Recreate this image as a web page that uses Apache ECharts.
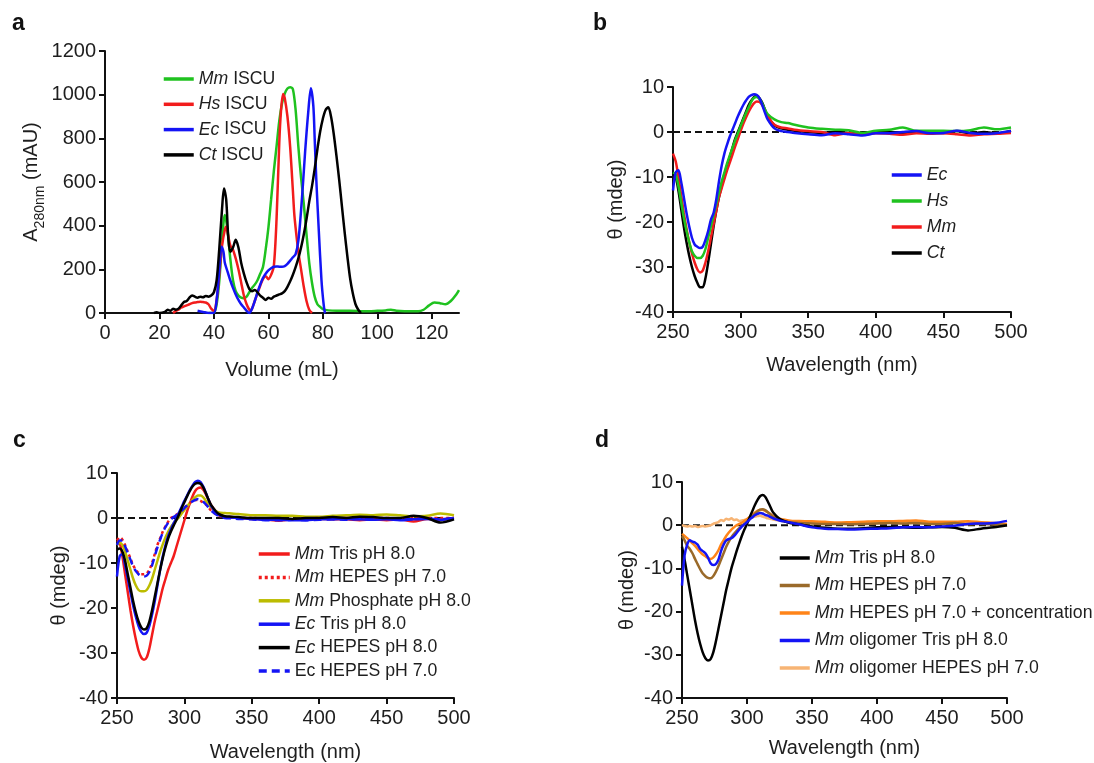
<!DOCTYPE html>
<html><head><meta charset="utf-8">
<script src="https://cdn.jsdelivr.net/npm/echarts@6/dist/echarts.min.js"></script>
<style>html,body{margin:0;padding:0;background:#fff}#c{width:1094px;height:763px}</style>
</head><body><div id="c"></div>
<script>
// ---------- Panel a: size-exclusion (Volume mL, A280 mAU) ----------
const aMm = [[38,0],[40,2],[41,40],[42,150],[43,330],[44,449],[45,380],[46,250],[47,150],[48,100],[49,80],[50,70],[51,68],[52,75],[53,95],[54,115],[55,130],[56,150],[57,180],[58,210],[59,290],[60,390],[61,520],[62,650],[63,763],[64,880],[65,960],[66,1005],[67,1028],[68,1034],[69,1025],[70,930],[71,763],[72,620],[73,500],[74,360],[75,230],[76,140],[77,75],[78,40],[79,28],[80,18],[82,12],[85,10],[90,10],[95,8],[100,10],[103,12],[105,15],[107,10],[110,8],[115,8],[117,15],[119,35],[121,48],[123,45],[125,40],[127,55],[129,85],[130,105]];
const aHs = [[25,0],[26,10],[27,15],[28,25],[29,30],[30,35],[31,40],[32,45],[33,48],[34,50],[35,52],[36,50],[37,48],[38,40],[39,20],[40,10],[41,60],[42,180],[43,310],[44,380],[44.5,395],[45,370],[46,310],[47,290],[48,250],[49,200],[50,140],[51,80],[52,40],[53,15],[53.5,10],[54,20],[55,55],[56,90],[57,125],[58,155],[59,168],[60,155],[61,175],[62,215],[63,430],[64,780],[64.6,920],[65.4,1003],[66,985],[67,900],[68,760],[69,560],[69.5,455],[70,390],[71,280],[72,200],[73,120],[74,55],[75,15],[76,0]];
const aEc = [[34,10],[36,5],[38,0],[40,0],[41,60],[42,200],[42.8,304],[43.5,280],[44,230],[45,190],[46,150],[47,115],[48,85],[49,60],[50,40],[51,25],[52,10],[53,0],[54,20],[55,55],[56,95],[57,130],[58,160],[59,180],[60,195],[61,205],[62,212],[63,213],[64,212],[65,212],[66,215],[67,225],[68,240],[69,255],[70,270],[71,330],[72,470],[72.8,609],[73.5,740],[74.6,914],[75.6,1029],[76.5,950],[77,800],[77.6,610],[78.5,380],[79.5,150],[80.2,50],[80.7,5],[81,0]];
const aCt = [[18,0],[19,3],[20,0],[22,5],[23,15],[24,10],[25,20],[26,15],[27,20],[28,35],[29,50],[30,55],[31,70],[32,80],[33,75],[34,70],[35,75],[36,72],[37,78],[38,75],[39,80],[40,95],[41,150],[42,300],[43,480],[43.7,570],[44.5,520],[45.3,340],[46,280],[47,300],[48,335],[49,300],[50,230],[51,180],[52,140],[53,110],[54,100],[55,105],[56,95],[57,80],[58,70],[59,60],[60,70],[61,65],[62,75],[63,80],[64,85],[65,90],[66,100],[67,120],[68,145],[69,175],[70,210],[71,250],[72,300],[73,360],[74,430],[75,510],[76,580],[77,660],[78,750],[79,830],[80,890],[81,930],[82,942],[83,900],[84,820],[85,720],[86,610],[87,490],[88,370],[89,260],[90,160],[91,90],[92,40],[93,15],[94,0]];
const aVolTicks = [0,20,40,60,80,100,120];
const aLegend = [['Mm',' ISCU'],['Hs',' ISCU'],['Ec',' ISCU'],['Ct',' ISCU']];

// ---------- shared wavelength grid (nm) for CD panels ----------
const wl = [250,252,254,256,258,260,262,264,266,268,270,272,274,276,278,280,282,284,286,288,290,292,294,296,298,300,302,304,306,308,310,312,314,316,318,320,325,330,335,340,350,360,370,380,390,400,410,420,430,440,450,460,470,480,490,500];

// ---------- Panel b ----------
const bEc = [-13,-9,-8.5,-11,-14.5,-18,-21,-23.5,-25,-25.5, -25.8,-25.5,-24,-22,-19.5,-18,-15,-11,-7.5,-4.8, -2.8,-1,0.5,2,3.5,4.8,6,7,7.8,8.2, 8.4,8.2,7.5,6,4.3,2.8, 0.8,0.2,0,-0.2, -0.5,-0.7,-0.3,-0.5,-0.8,-0.3,-0.3,0,0.2,-0.3,-0.2,0.3,-0.2,-0.4,-0.2,0.2];
const bHs = [-9,-9.5,-12,-15.5,-19,-22,-24.5,-26.5,-27.5,-28, -28,-27.5,-26,-23.5,-21,-18.5,-16,-13.5,-11,-9, -7,-5.2,-3.5,-1.8,-0.3,1.3,2.8,4.2,5.5,6.8, 7.6,7.8,7.3,6.3,5,4, 2.8,2.2,2,1.6, 1,0.7,0.5,0.4,-0.2,0.3,0.5,1,0.3,0.3,0.3,0.2,0.4,1,0.6,1];
const bMm = [-4.8,-6.5,-10,-14,-18,-21.5,-24.5,-27,-29,-30.5, -31.2,-30.8,-29,-26.5,-23.5,-20.5,-17.5,-14.5,-12.5,-10.5, -8.5,-6.8,-5,-3.2,-1.5,0.2,1.8,3.2,4.5,5.6, 6.4,6.8,6.7,6,4.8,3.5, 1.6,1,0.8,0.5, 0.2,0,-0.7,-0.2,-0.6,-0.3,-0.4,-0.6,-0.3,-0.4,-0.3,-0.5,-0.8,-0.5,-0.4,-0.2];
const bCt = [-9,-10,-13,-17,-21,-24.5,-27.5,-30,-32,-33.5, -34.5,-34.5,-32.5,-29,-25,-21,-17.5,-14.5,-12,-9.5, -7.5,-5.5,-3.5,-1.5,0,1.5,3,4.5,6,7, 7.8,8,7.5,6.5,5,3.5, 1.5,0.8,0.5,0.3, 0,-0.2,0,-0.2,-0.5,0,0,-0.2,0,0,-0.2,0.2,-0.3,0,-0.3,0.3];
const bLegend = [['Ec',''],['Hs',''],['Mm',''],['Ct','']];

// ---------- Panel c ----------
const cMmTris = [-5,-5.5,-8.5,-12.5,-16.5,-20.5,-24,-27,-29.5,-31, -31.5,-31,-29,-26,-23,-20.5,-18,-15.5,-13.5,-11.5, -10,-8.5,-6.5,-4.5,-2.5,-0.5,1.5,3.2,4.8,6, 6.6,6.8,6.3,5.2,4,2.8, 1,0.3,0.2,0, -0.2,-0.3,-0.6,-0.3,-0.3,-0.2,-0.3,-0.3,-0.5,-0.3,-0.5,-0.3,-0.8,-0.2,-0.3,0];
const cMmHepes7 = [-5,-4.3,-4.8,-6,-7.5,-9,-10.5,-11.5,-12.2,-12.5, -12.5,-12.3,-11.5,-10,-8,-6,-4.5,-3,-1.8,-0.8, 0,0.3,0.7,1.2,1.8,2.3,2.8,3.3,3.8,4, 4,3.8,3.4,3,2.3,1.6, 0.6,0.2,0.1,0, 0,-0.2,-0.2,-0.3,-0.2,0,-0.2,0,0,0,0,-0.2,0,0,0,0];
const cMmPhos = [-6,-5.5,-6,-7.5,-9.5,-11.5,-13.5,-15,-16,-16.3, -16.3,-16,-15,-13.5,-11.5,-9.5,-7.5,-5.8,-4.3,-3, -2,-1.2,-0.5,0.2,1,1.8,2.6,3.3,4,4.6, 5,5,4.6,3.8,3,2.3, 1.3,1.1,1,0.9, 0.6,0.6,0.5,0.5,0.3,0.3,0.5,0.6,0.7,0.6,0.8,0.6,0.4,0.5,1,0.6];
const cEcTris = [-13,-8.5,-8,-10.5,-13.5,-16.5,-19.5,-22,-24,-25.3, -25.8,-25.5,-24,-21.5,-18.5,-15,-11.5,-8.5,-6,-4, -2.5,-1.2,0,1.2,2.5,3.8,5,6.2,7.2,8, 8.3,8,7,5.5,4,2.6, 0.8,0.3,0.1,0, -0.2,-0.4,-0.4,-0.5,-0.5,-0.3,-0.3,-0.2,-0.3,-0.4,-0.3,-0.5,-0.3,-0.2,-0.4,0];
const cEcHepes8 = [-7,-6.8,-7.5,-9.5,-12.5,-15.5,-18.5,-21,-23,-24.3, -24.8,-24.5,-23,-20.5,-17.5,-14.5,-11.5,-8.8,-6.5,-4.5, -3,-1.7,-0.5,0.8,2.2,3.5,4.8,6,7,7.6, 7.8,7.6,6.8,5.5,4,2.8, 1,0.4,0.3,0.2, 0,0,0,-0.2,0,0,0.2,0,0.3,0.2,0,0,0.5,0,-1,-0.3];
const cEcHepes7 = [-6,-5,-5,-6.3,-7.8,-9.3,-10.8,-11.8,-12.5,-12.9, -13,-12.8,-12,-10.5,-8.5,-6.5,-4.8,-3.2,-2,-1, -0.3,0.2,0.6,1,1.6,2.2,2.8,3.3,3.7,4, 4.2,4,3.6,3,2.3,1.6, 0.5,0,-0.1,-0.2, -0.3,-0.5,-0.5,-0.4,-0.5,-0.4,-0.3,-0.4,-0.2,-0.2,0,-0.4,-0.2,-0.1,-0.3,0];
const cLegend = [['Mm',' Tris pH 8.0'],['Mm',' HEPES pH 7.0'],['Mm',' Phosphate pH 8.0'],['Ec',' Tris pH 8.0'],['Ec',' HEPES pH 8.0'],['','Ec HEPES pH 7.0']];

// ---------- Panel d ----------
const dMmTris = [-5,-8,-11.5,-15,-18.5,-22,-25,-27.5,-29.5,-30.8, -31.3,-31,-29.5,-27,-24,-21,-18,-15,-12.5,-10, -8,-6,-4.2,-2.5,-1,0.3,1.8,3.2,4.6,5.8, 6.7,7,6.6,5.5,4.2,3, 1.5,0.8,0.4,0.2, -0.3,-0.6,-0.8,-0.8,-0.7,-0.5,-0.4,-0.5,-0.6,-0.5,-0.4,-0.6,-1.2,-0.8,-0.5,0];
const dMmHepes = [-2.5,-3.5,-4.8,-5.5,-6.5,-7.8,-9,-10.2,-11.2,-11.8, -12.2,-12.3,-11.8,-10.8,-9.5,-8,-6.5,-5,-3.8,-2.8, -2,-1.3,-0.7,-0.2,0.3,0.8,1.4,2,2.6,3.2, 3.6,3.7,3.5,3,2.5,2, 1.2,0.8,0.6,0.5, 0.4,0.3,0.3,0.2,0.3,0.4,0.5,0.4,0.5,0.3,0.3,0.5,0.2,0.3,0.2,0];
const dMmHepesConc = [-2,-2.5,-3,-3.6,-4.2,-4.8,-5.5,-6.2,-6.8,-7.2, -7.6,-7.8,-7.5,-6.8,-5.8,-4.5,-3.5,-2.5,-1.7,-1, -0.5,0,0.3,0.6,1,1.4,1.9,2.4,2.9,3.3, 3.5,3.6,3.3,3,2.6,2.2, 1.5,1.2,1,1, 0.9,0.8,0.6,0.7,0.8,0.9,0.9,1,1.1,0.8,0.8,0.8,0.9,0.7,0.5,0.3];
const dOligoTris = [-14,-7,-4.5,-3.5,-3.8,-4,-4.5,-5.5,-6,-6.5, -7.5,-8.8,-9.2,-9,-8,-6,-4.5,-3.5,-3.2,-3, -2.5,-1.8,-1,-0.3,0.2,0.7,1.3,1.8,2.3,2.6, 2.8,2.7,2.4,2.2,1.9,1.6, 1.1,0.8,0.5,0.2, -0.5,-0.8,-0.9,-1,-0.9,-0.8,-0.7,-0.5,-0.4,-0.5,-0.3,-0.1,0.3,0.4,0.5,1];
const dOligoHepes = [0,-0.2,-0.3,-0.2,-0.3,-0.2,-0.4,-0.3,-0.2,-0.3, -0.2,0,0.3,0.5,0.7,1.2,1,1.5,1.3,1.6, 1.2,1.3,1,1.1,1.2,1.4,1.6,1.8,2,2.1, 2.2,2,1.8,1.6,1.5,1.3, 1.1,1,0.8,0.7, 0.6,0.6,0.4,0.5,0.5,0.6,0.6,0.8,0.9,0.7,0.6,0.7,0.6,0.5,0.3,0];
const dLegend = [['Mm',' Tris pH 8.0'],['Mm',' HEPES pH 7.0'],['Mm',' HEPES pH 7.0 + concentration'],['Mm',' oligomer Tris pH 8.0'],['Mm',' oligomer HEPES pH 7.0']];

const cdTicks = [250,300,350,400,450,500];

// ---------- build ----------
const FONT = "'Liberation Sans', Arial, Helvetica, sans-serif";
const TXT = '#1e1e1e';
const LFS = 17.7;
const pair = arr => wl.map((x, i) => [x, arr[i]]);

function xAx(gi, min, max, interval, name, nameGap, custom) {
  const ax = {
    type: 'value', gridIndex: gi, min, max, interval, name, nameLocation: 'middle', nameGap,
    nameTextStyle: {color: TXT, fontSize: 20, fontFamily: FONT},
    axisLine: {show: true, onZero: false, lineStyle: {color: '#111', width: 2}},
    axisTick: {show: true, length: 6, lineStyle: {color: '#111', width: 2}},
    axisLabel: {color: TXT, fontSize: 20, fontFamily: FONT, margin: 10, formatter: v => String(v)},
    splitLine: {show: false}
  };
  if (custom) { ax.axisLabel.customValues = custom; ax.axisTick.customValues = custom; }
  return ax;
}
function yAx(gi, min, max, interval, name, nameGap, nts) {
  return {
    type: 'value', gridIndex: gi, min, max, interval, name, nameLocation: 'middle', nameGap,
    nameTextStyle: nts || {color: TXT, fontSize: 20, fontFamily: FONT},
    axisLine: {show: true, onZero: false, lineStyle: {color: '#111', width: 2}},
    axisTick: {show: true, length: 6, lineStyle: {color: '#111', width: 2}},
    axisLabel: {color: TXT, fontSize: 20, fontFamily: FONT, margin: 9, formatter: v => String(v)},
    splitLine: {show: false}
  };
}
function ser(id, gi, data, color, type, width) {
  return {
    id, name: id, type: 'line', xAxisIndex: gi, yAxisIndex: gi, data, symbol: 'none', smooth: 0.3,
    lineStyle: {color, width: width || 2.5, type: type || 'solid'}, itemStyle: {color}, z: 3, silent: true
  };
}
function zeroLine(gi) {
  return {
    type: 'line', xAxisIndex: gi, yAxisIndex: gi, data: [[250, 0], [500, 0]], symbol: 'none', silent: true,
    lineStyle: {color: '#111', width: 2, type: [7, 4]}, z: 2
  };
}
const labelMap = {};
function legend(prefix, items, left, top, gap, itemWidth) {
  const names = items.map((it, i) => { const n = prefix + i; labelMap[n] = it; return n; });
  return {
    data: names, orient: 'vertical', left, top, itemGap: gap, itemWidth: itemWidth || 30, itemHeight: 14,
    selectedMode: false,
    itemStyle: {opacity: 0},
    lineStyle: {width: 3.5},
    formatter: n => { const [it, rest] = labelMap[n]; return (it ? '{i|' + it + '}' : '') + (rest ? '{n|' + rest + '}' : ''); },
    textStyle: {
      color: TXT, fontSize: LFS, fontFamily: FONT, lineHeight: 20,
      rich: {i: {fontStyle: 'italic', fontSize: LFS, fontFamily: FONT, color: TXT}, n: {fontSize: LFS, fontFamily: FONT, color: TXT}}
    }
  };
}

const GREEN = '#1fc21f', RED = '#f21c1c', BLUE = '#1414f5', BLACK = '#000000';

const option = {
  backgroundColor: '#fff',
  animation: false,
  title: [
    {text: 'a', left: 7, top: 7, textStyle: {fontSize: 23, fontWeight: 'bold', color: '#111', fontFamily: FONT}},
    {text: 'b', left: 588, top: 7, textStyle: {fontSize: 23, fontWeight: 'bold', color: '#111', fontFamily: FONT}},
    {text: 'c', left: 8, top: 424, textStyle: {fontSize: 23, fontWeight: 'bold', color: '#111', fontFamily: FONT}},
    {text: 'd', left: 590, top: 424, textStyle: {fontSize: 23, fontWeight: 'bold', color: '#111', fontFamily: FONT}}
  ],
  grid: [
    {left: 105, top: 51, width: 354, height: 262},
    {left: 673, top: 87, width: 338, height: 225},
    {left: 117, top: 473, width: 337, height: 225},
    {left: 682, top: 482, width: 325, height: 216}
  ],
  xAxis: [
    xAx(0, 0, 130, 20, 'Volume (mL)', 47, aVolTicks),
    xAx(1, 250, 500, 50, 'Wavelength (nm)', 43, cdTicks),
    xAx(2, 250, 500, 50, 'Wavelength (nm)', 44, cdTicks),
    xAx(3, 250, 500, 50, 'Wavelength (nm)', 40, cdTicks)
  ],
  yAxis: [
    yAx(0, 0, 1200, 200, '{m|A}{s|280nm}{m| (mAU)}', 43, {
      color: TXT, fontFamily: FONT, fontSize: 20,
      rich: {m: {fontSize: 20, fontFamily: FONT, color: TXT, lineHeight: 26, verticalAlign: 'top'},
             s: {fontSize: 14, fontFamily: FONT, color: TXT, lineHeight: 26, verticalAlign: 'bottom'}}
    }),
    yAx(1, -40, 10, 10, 'θ (mdeg)', 47),
    yAx(2, -40, 10, 10, 'θ (mdeg)', 48),
    yAx(3, -40, 10, 10, 'θ (mdeg)', 45)
  ],
  legend: [
    legend('a', aLegend, 157, 64, 5.3, 30),
    legend('b', bLegend, 885, 160, 6, 30),
    legend('c', cLegend, 252, 539, 3.4, 31),
    legend('d', dLegend, 773, 543, 7.5, 30)
  ],
  series: [
    ser('a0', 0, aMm, GREEN), ser('a1', 0, aHs, RED), ser('a2', 0, aEc, BLUE), ser('a3', 0, aCt, BLACK),
    zeroLine(1),
    ser('b3', 1, pair(bCt), BLACK), ser('b2', 1, pair(bMm), RED), ser('b1', 1, pair(bHs), GREEN), ser('b0', 1, pair(bEc), BLUE),
    zeroLine(2),
    ser('c0', 2, pair(cMmTris), RED), ser('c2', 2, pair(cMmPhos), '#bcbc00'),
    ser('c1', 2, pair(cMmHepes7), RED, [3, 3], 2.5), ser('c5', 2, pair(cEcHepes7), BLUE, [8, 5], 2.5),
    ser('c3', 2, pair(cEcTris), BLUE), ser('c4', 2, pair(cEcHepes8), BLACK),
    zeroLine(3),
    ser('d4', 3, pair(dOligoHepes), '#f7b474'), ser('d2', 3, pair(dMmHepesConc), '#ff8418'),
    ser('d1', 3, pair(dMmHepes), '#9a6a2a'), ser('d0', 3, pair(dMmTris), BLACK), ser('d3', 3, pair(dOligoTris), BLUE)
  ]
};
const chart = echarts.init(document.getElementById('c'), null, {renderer: 'canvas'});
chart.setOption(option);
</script>
</body></html>
